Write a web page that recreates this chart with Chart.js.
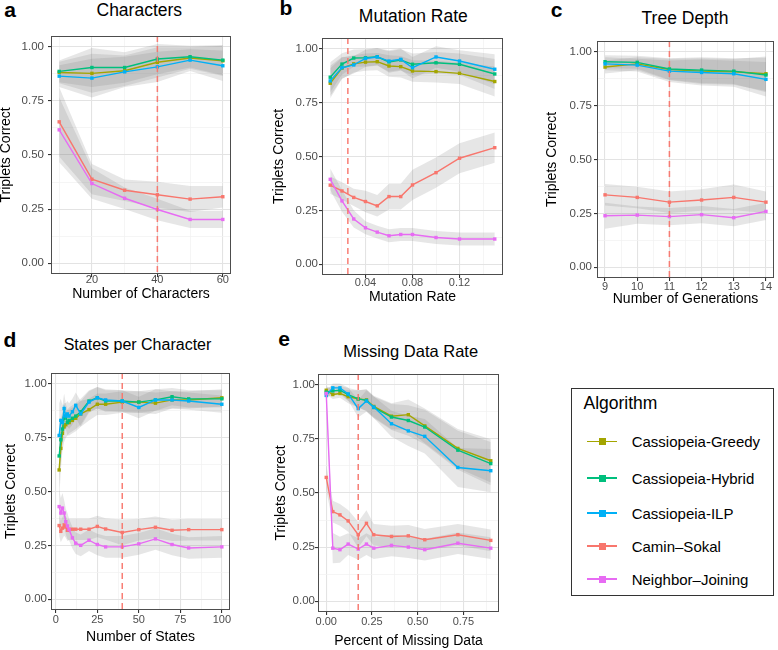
<!DOCTYPE html>
<html><head><meta charset="utf-8">
<script src="https://cdn.jsdelivr.net/npm/chart.js@4/dist/chart.umd.min.js"></script>
<style>
html,body{margin:0;padding:0;background:#fff;overflow:hidden;width:778px;height:650px;}
body{position:relative;font-family:"Liberation Sans",Arial,Helvetica,sans-serif;}
canvas{position:absolute;}
.t{position:absolute;white-space:nowrap;line-height:1;color:#000;}
</style></head><body>
<script>
// ---------- DATA ----------
const SERIES_NAMES = ['Cassiopeia-Greedy','Cassiopeia-Hybrid','Cassiopeia-ILP','Camin–Sokal','Neighbor–Joining'];
const Y_MAJOR = [0, 0.25, 0.5, 0.75, 1];
const Y_MINOR = [0.125, 0.375, 0.625, 0.875];

// a: Characters
const aX = [10, 20, 30, 40, 50, 60];
const aGreedy = [0.881, 0.877, 0.889, 0.928, 0.948, 0.935];
const aHybrid = [0.886, 0.904, 0.904, 0.943, 0.954, 0.938];
const aILP    = [0.864, 0.855, 0.884, 0.907, 0.938, 0.912];
const aCS     = [0.653, 0.388, 0.337, 0.316, 0.296, 0.307];
const aNJ     = [0.616, 0.368, 0.300, 0.248, 0.202, 0.202];
const aBandUp = [0.05, 0.09, 0.07, 0.07, 0.05, 0.07];
const aBandCS = [0.16, 0.07, 0.05, 0.06, 0.06, 0.05];
const aBandNJ = [0.15, 0.07, 0.05, 0.05, 0.04, 0.04];
const aMark = 40;
const aXMajor = [20, 40, 60];
const aXMinor = [10, 30, 50];

// b: Mutation Rate
const bX = [0.01, 0.02, 0.03, 0.04, 0.05, 0.06, 0.07, 0.08, 0.10, 0.12, 0.15];
const bGreedy = [0.840, 0.910, 0.930, 0.938, 0.940, 0.920, 0.917, 0.897, 0.894, 0.886, 0.848];
const bHybrid = [0.868, 0.929, 0.957, 0.958, 0.963, 0.939, 0.948, 0.928, 0.935, 0.928, 0.883];
const bILP    = [0.851, 0.912, 0.925, 0.955, 0.962, 0.943, 0.951, 0.912, 0.962, 0.943, 0.905];
const bCS     = [0.367, 0.340, 0.310, 0.291, 0.271, 0.314, 0.314, 0.368, 0.425, 0.492, 0.541];
const bNJ     = [0.394, 0.294, 0.210, 0.169, 0.149, 0.132, 0.138, 0.138, 0.124, 0.117, 0.117];
const bBandUp = [0.07, 0.05, 0.04, 0.04, 0.04, 0.05, 0.05, 0.05, 0.05, 0.05, 0.07];
const bBandCS = [0.04, 0.04, 0.04, 0.05, 0.05, 0.06, 0.06, 0.07, 0.07, 0.07, 0.07];
const bBandNJ = [0.05, 0.05, 0.04, 0.03, 0.03, 0.03, 0.03, 0.03, 0.03, 0.03, 0.03];
const bMark = 0.025;
const bXMajor = [0.04, 0.08, 0.12];
const bXMinor = [0.02, 0.06, 0.10, 0.14];

// c: Tree Depth
const cX = [9, 10, 11, 12, 13, 14];
const cGreedy = [0.929, 0.944, 0.918, 0.910, 0.907, 0.898];
const cHybrid = [0.954, 0.951, 0.920, 0.915, 0.910, 0.892];
const cILP    = [0.944, 0.938, 0.910, 0.904, 0.898, 0.872];
const cCS     = [0.336, 0.324, 0.302, 0.312, 0.324, 0.302];
const cNJ     = [0.239, 0.242, 0.235, 0.244, 0.230, 0.259];
const cBandUp = [0.03, 0.03, 0.05, 0.06, 0.06, 0.08];
const cBandCS = [0.05, 0.05, 0.05, 0.05, 0.06, 0.05];
const cBandNJ = [0.06, 0.04, 0.04, 0.04, 0.04, 0.04];
const cMark = 11;
const cXMajor = [9, 10, 11, 12, 13, 14];
const cXMinor = [9.5, 10.5, 11.5, 12.5, 13.5];

// d: States per Character
const dX = [2, 3, 4, 5, 6, 7, 8, 10, 12, 15, 20, 25, 30, 40, 50, 60, 70, 80, 100];
const dGreedy = [0.600, 0.700, 0.770, 0.800, 0.810, 0.820, 0.820, 0.830, 0.840, 0.860, 0.880, 0.905, 0.905, 0.915, 0.915, 0.910, 0.925, 0.925, 0.935];
const dHybrid = [0.665, 0.740, 0.790, 0.840, 0.850, 0.820, 0.830, 0.840, 0.850, 0.870, 0.920, 0.935, 0.920, 0.920, 0.915, 0.925, 0.940, 0.930, 0.930];
const dILP    = [0.760, 0.830, 0.820, 0.885, 0.850, 0.860, 0.850, 0.870, 0.900, 0.860, 0.915, 0.935, 0.925, 0.920, 0.890, 0.925, 0.925, 0.920, 0.905];
const dCS     = [0.342, 0.315, 0.330, 0.345, 0.335, 0.320, 0.325, 0.325, 0.325, 0.325, 0.325, 0.338, 0.326, 0.310, 0.323, 0.334, 0.320, 0.323, 0.323];
const dNJ     = [0.430, 0.400, 0.423, 0.400, 0.360, 0.340, 0.323, 0.285, 0.260, 0.250, 0.274, 0.254, 0.243, 0.243, 0.257, 0.280, 0.254, 0.238, 0.243];
const dBandUp = [0.15, 0.10, 0.08, 0.07, 0.06, 0.06, 0.06, 0.06, 0.06, 0.06, 0.05, 0.05, 0.05, 0.05, 0.05, 0.05, 0.04, 0.04, 0.04];
const dBandCS = [0.05, 0.05, 0.05, 0.05, 0.05, 0.05, 0.05, 0.05, 0.05, 0.05, 0.05, 0.05, 0.05, 0.06, 0.05, 0.05, 0.05, 0.05, 0.05];
const dBandNJ = [0.08, 0.07, 0.07, 0.06, 0.06, 0.06, 0.05, 0.05, 0.05, 0.05, 0.05, 0.05, 0.05, 0.05, 0.05, 0.05, 0.05, 0.05, 0.05];
const dMark = 40;
const dXMajor = [0, 25, 50, 75, 100];
const dXMinor = [12.5, 37.5, 62.5, 87.5];

// e: Missing Data Rate
const eX = [0, 0.036, 0.075, 0.12, 0.175, 0.22, 0.26, 0.357, 0.449, 0.539, 0.72, 0.90];
const eGreedy = [0.975, 0.955, 0.960, 0.945, 0.935, 0.930, 0.900, 0.855, 0.862, 0.810, 0.706, 0.649];
const eHybrid = [0.966, 0.972, 0.975, 0.955, 0.935, 0.928, 0.895, 0.851, 0.835, 0.805, 0.698, 0.636];
const eILP    = [0.951, 0.986, 0.986, 0.958, 0.890, 0.925, 0.897, 0.820, 0.787, 0.762, 0.618, 0.603];
const eCS     = [0.572, 0.414, 0.399, 0.371, 0.307, 0.360, 0.307, 0.299, 0.302, 0.284, 0.307, 0.281];
const eNJ     = [0.960, 0.245, 0.238, 0.264, 0.241, 0.264, 0.245, 0.258, 0.250, 0.238, 0.268, 0.245];
const eBandUp = [0.02, 0.02, 0.02, 0.03, 0.04, 0.05, 0.05, 0.06, 0.07, 0.08, 0.09, 0.10];
const eBandCS = [0.06, 0.05, 0.05, 0.05, 0.06, 0.06, 0.05, 0.05, 0.05, 0.05, 0.05, 0.05];
const eBandNJ = [0.02, 0.07, 0.06, 0.05, 0.05, 0.05, 0.05, 0.05, 0.05, 0.05, 0.05, 0.05];
const eMark = 0.175;
const eXMajor = [0, 0.25, 0.5, 0.75];
const eXMinor = [0.125, 0.375, 0.625, 0.875];

// ---------- STYLE / LAYOUT ----------
const COLORS = ['#A3A500', '#00BF7D', '#00B0F6', '#F8766D', '#E76BF3'];
const FONT = '"Liberation Sans", Arial, Helvetica, sans-serif';

const panels = [
  {letter:'a', title:'Characters', xTitle:'Number of Characters', x:aX, ys:[aGreedy,aHybrid,aILP,aCS,aNJ],
   bands:[aBandUp,aBandUp,aBandUp,aBandCS,aBandNJ], mark:aMark, xMajor:aXMajor, xMinor:aXMinor, xLim:[7.5,62.5],
   fmt:v=>String(v), box:{l:51,t:35,r:231,b:274}, tc:6.5, yGap:7, xTick:6, xTitleOff:21, padR:6,
   titlePos:[139.3,16.7,17.5], letterPos:[10,16.7]},
  {letter:'b', title:'Mutation Rate', xTitle:'Mutation Rate', x:bX, ys:[bGreedy,bHybrid,bILP,bCS,bNJ],
   bands:[bBandUp,bBandUp,bBandUp,bBandCS,bBandNJ], mark:bMark, xMajor:bXMajor, xMinor:bXMinor, xLim:[0.003,0.157],
   fmt:v=>v.toFixed(2), box:{l:322,t:38,r:503,b:275}, tc:279, yGap:4, xTick:8, xTitleOff:23, padR:6,
   titlePos:[413.3,23.3,17.5], letterPos:[286,15]},
  {letter:'c', title:'Tree Depth', xTitle:'Number of Generations', x:cX, ys:[cGreedy,cHybrid,cILP,cCS,cNJ],
   bands:[cBandUp,cBandUp,cBandUp,cBandCS,cBandNJ], mark:cMark, xMajor:cXMajor, xMinor:cXMinor, xLim:[8.75,14.25],
   fmt:v=>String(v), box:{l:597,t:41,r:778,b:278}, tc:552, yGap:5, xTick:9, xTitleOff:22, padR:0,
   titlePos:[685,24.5,17.5], letterPos:[556.7,16.7]},
  {letter:'d', title:'States per Character', xTitle:'Number of States', x:dX, ys:[dGreedy,dHybrid,dILP,dCS,dNJ],
   bands:[dBandUp,dBandUp,dBandUp,dBandCS,dBandNJ], mark:dMark, xMajor:dXMajor, xMinor:dXMinor, xLim:[-2.9,104.9],
   fmt:v=>String(v), box:{l:51,t:373,r:230,b:610}, tc:11.7, yGap:4, xTick:10, xTitleOff:28, padR:6,
   titlePos:[137.5,351,16], letterPos:[10,346.7]},
  {letter:'e', title:'Missing Data Rate', xTitle:'Percent of Missing Data', x:eX, ys:[eGreedy,eHybrid,eILP,eCS,eNJ],
   bands:[eBandUp,eBandUp,eBandUp,eBandCS,eBandNJ], mark:eMark, xMajor:eXMajor, xMinor:eXMinor, xLim:[-0.045,0.945],
   fmt:v=>v.toFixed(2), box:{l:318,t:374,r:499,b:612}, tc:281, yGap:3, xTick:10, xTitleOff:30, padR:6,
   titlePos:[410.7,357,16.5], letterPos:[284,346]}
];

function addText(txt, x, baseline, size, opts) {
  const d = document.createElement('div');
  d.className = 't';
  d.textContent = txt;
  d.style.fontSize = size + 'px';
  d.style.top = (baseline - 0.8465 * size) + 'px';
  if (opts && opts.bold) d.style.fontWeight = 'bold';
  if (opts && opts.center) { d.style.left = x + 'px'; d.style.transform = 'translateX(-50%)'; }
  else d.style.left = x + 'px';
  document.body.appendChild(d);
  return d;
}

const framePlugin = {
  id: 'frame',
  afterDatasetsDraw(chart, args, opts) {
    const {ctx, chartArea:a, scales} = chart;
    const px = scales.x.getPixelForValue(opts.mark);
    ctx.save();
    ctx.strokeStyle = 'rgba(248,118,109,0.95)';
    ctx.lineWidth = 1.5;
    ctx.setLineDash([6, 4]);
    ctx.beginPath();
    ctx.moveTo(px, a.top);
    ctx.lineTo(px, a.bottom);
    ctx.stroke();
    ctx.restore();
  },
  afterDraw(chart) {
    const {ctx, chartArea:a} = chart;
    ctx.save();
    ctx.strokeStyle = '#4d4d4d';
    ctx.lineWidth = 1;
    ctx.strokeRect(Math.round(a.left) + 0.5, Math.round(a.top) + 0.5, Math.round(a.right - a.left) - 1, Math.round(a.bottom - a.top) - 1);
    ctx.restore();
  }
};

function near(arr, v) { return arr.some(m => Math.abs(m - v) < 1e-9); }

function buildPanel(p) {
  const {l, t, r, b} = p.box;
  const TOPPAD = 10;
  const canvasLeft = Math.round(p.tc - 8.4);
  const yw = l - canvasLeft;
  const xh = Math.round(p.xTitleOff + 8.4);
  const W = yw + (r - l) + p.padR;
  const H = TOPPAD + (b - t) + xh;
  const cv = document.createElement('canvas');
  cv.width = W; cv.height = H;
  cv.style.left = canvasLeft + 'px';
  cv.style.top = (t - TOPPAD) + 'px';
  cv.style.width = W + 'px'; cv.style.height = H + 'px';
  document.body.appendChild(cv);

  const datasets = [];
  p.ys.forEach((ys, i) => {
    const band = p.bands[i];
    datasets.push({
      data: p.x.map((v, j) => ({x: v, y: ys[j] + band[j]})),
      fill: '+1', backgroundColor: 'rgba(128,128,128,0.2)', borderWidth: 0, borderColor: 'rgba(0,0,0,0)',
      pointRadius: 0, order: 10
    });
    datasets.push({
      data: p.x.map((v, j) => ({x: v, y: ys[j] - band[j]})),
      fill: false, borderWidth: 0, borderColor: 'rgba(0,0,0,0)', pointRadius: 0, order: 10
    });
  });
  p.ys.forEach((ys, i) => {
    datasets.push({
      label: SERIES_NAMES[i],
      data: p.x.map((v, j) => ({x: v, y: ys[j]})),
      borderColor: COLORS[i], backgroundColor: COLORS[i], borderWidth: 1.4,
      pointStyle: 'rect', pointRadius: 2.4, pointBorderWidth: 0, pointBackgroundColor: COLORS[i],
      fill: false, tension: 0, order: -i
    });
  });

  const xTicks = p.xMajor.concat(p.xMinor).sort((a, c) => a - c);
  const yTicks = Y_MAJOR.concat(Y_MINOR).sort((a, c) => a - c);
  const xTickFont = {family: FONT, size: 11};
  const yTickFont = {family: FONT, size: 11.5};
  const titleFont = {family: FONT, size: 14, lineHeight: 1.2};

  new Chart(cv, {
    type: 'line',
    data: {datasets},
    options: {
      responsive: false, animation: false, devicePixelRatio: 1,
      layout: {padding: {top: TOPPAD, right: p.padR, left: 0, bottom: 0}},
      plugins: {legend: {display: false}, tooltip: {enabled: false}, filler: {drawTime: 'beforeDatasetsDraw'},
                frame: {mark: p.mark}},
      scales: {
        x: {
          type: 'linear', min: p.xLim[0], max: p.xLim[1],
          afterBuildTicks: s => { s.ticks = xTicks.map(v => ({value: v})); },
          afterFit: s => { s.height = xh; },
          ticks: {autoSkip: false, maxRotation: 0, minRotation: 0, font: xTickFont, color: '#4d4d4d',
                  padding: p.xTick - 3 - 6.6,
                  callback: v => near(p.xMajor, v) ? p.fmt(v) : ''},
          grid: {
            color: c => (c.tick && near(p.xMajor, c.tick.value)) ? '#e3e3e3' : '#f1f1f1',
            lineWidth: c => (c.tick && near(p.xMajor, c.tick.value)) ? 1.1 : 0.7,
            tickColor: c => (c.tick && near(p.xMajor, c.tick.value)) ? '#333' : 'rgba(0,0,0,0)',
            tickLength: 3, drawTicks: true
          },
          border: {display: false},
          title: {display: true, text: p.xTitle, font: titleFont, color: '#000', padding: {top: 0, bottom: 0}}
        },
        y: {
          type: 'linear', min: -0.05, max: 1.05,
          afterBuildTicks: s => { s.ticks = yTicks.map(v => ({value: v})); },
          afterFit: s => { s.width = yw; },
          ticks: {autoSkip: false, font: yTickFont, color: '#4d4d4d', padding: p.yGap - 3,
                  callback: v => near(Y_MAJOR, v) ? v.toFixed(2) : ''},
          grid: {
            color: c => (c.tick && near(Y_MAJOR, c.tick.value)) ? '#e3e3e3' : '#f1f1f1',
            lineWidth: c => (c.tick && near(Y_MAJOR, c.tick.value)) ? 1.1 : 0.7,
            tickColor: c => (c.tick && near(Y_MAJOR, c.tick.value)) ? '#333' : 'rgba(0,0,0,0)',
            tickLength: 3, drawTicks: true
          },
          border: {display: false},
          title: {display: true, text: 'Triplets Correct', font: titleFont, color: '#000', padding: {top: 0, bottom: 0}}
        }
      }
    },
    plugins: [framePlugin]
  });

  addText(p.title, p.titlePos[0], p.titlePos[1], p.titlePos[2], {center: true});
  addText(p.letter, p.letterPos[0], p.letterPos[1], 21, {center: true, bold: true});
}

panels.forEach(buildPanel);

// ---------- LEGEND ----------
(function () {
  const box = document.createElement('div');
  box.style.cssText = 'position:absolute;left:571px;top:388px;width:203px;height:208px;border:1px solid #333;box-sizing:border-box;';
  document.body.appendChild(box);
  addText('Algorithm', 583.5, 410, 17.5);
  const keyY = [441.7, 478, 513, 546, 579];
  SERIES_NAMES.forEach((n, i) => {
    const ln = document.createElement('div');
    ln.style.cssText = `position:absolute;left:587px;top:${keyY[i] - 0.75}px;width:30px;height:1.5px;background:${COLORS[i]};`;
    document.body.appendChild(ln);
    const sq = document.createElement('div');
    sq.style.cssText = `position:absolute;left:${602 - 3.5}px;top:${keyY[i] - 3.5}px;width:7px;height:7px;background:${COLORS[i]};`;
    document.body.appendChild(sq);
    addText(n, 631.7, keyY[i] + 5.4, 15);
  });
})();
</script>
</body></html>
